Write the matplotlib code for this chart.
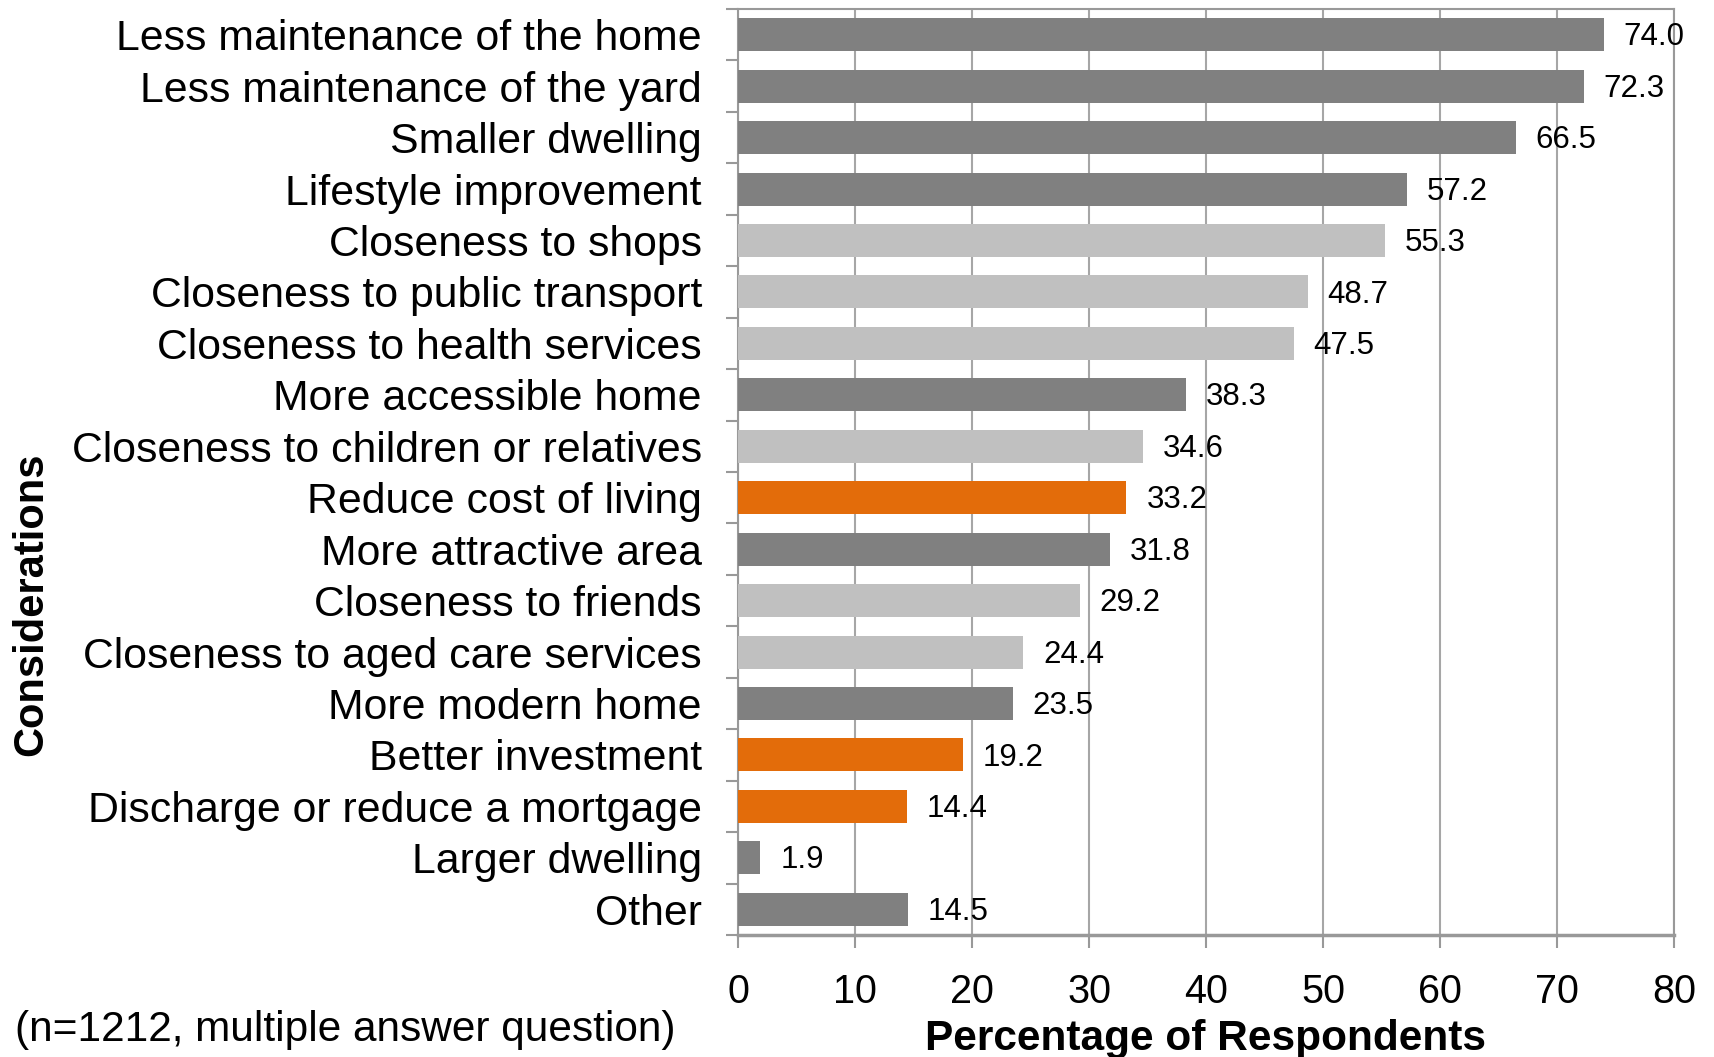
import matplotlib.pyplot as plt
import numpy as np

plt.rcParams['font.family'] = ['Liberation Sans', 'DejaVu Sans']

# survey data, top to bottom
labels = ['Less maintenance of the home', 'Less maintenance of the yard',
          'Smaller dwelling', 'Lifestyle improvement', 'Closeness to shops',
          'Closeness to public transport', 'Closeness to health services',
          'More accessible home', 'Closeness to children or relatives',
          'Reduce cost of living', 'More attractive area', 'Closeness to friends',
          'Closeness to aged care services', 'More modern home',
          'Better investment', 'Discharge or reduce a mortgage',
          'Larger dwelling', 'Other']
values = [74.0, 72.3, 66.5, 57.2, 55.3, 48.7, 47.5, 38.3, 34.6,
          33.2, 31.8, 29.2, 24.4, 23.5, 19.2, 14.4, 1.9, 14.5]
groups = ['d', 'd', 'd', 'd', 'l', 'l', 'l', 'd', 'l',
          'o', 'd', 'l', 'l', 'd', 'o', 'o', 'd', 'd']
xticks = [0, 10, 20, 30, 40, 50, 60, 70, 80]

palette = {'d': '#808080', 'l': '#c0c0c0', 'o': '#e36c0a'}
colors = [palette[g] for g in groups]

fig = plt.figure(figsize=(17.14, 10.57), dpi=100)
ax = fig.add_axes([0.4306, 0.1154, 0.5460, 0.8761])

y = np.arange(len(labels))
ax.barh(y, values, height=0.64, color=colors, zorder=3)

# value labels right of the bars
for yi, v in zip(y, values):
    ax.text(v + 1.7, yi + 0.05, '%.1f' % v, va='center', ha='left', fontsize=22.5, zorder=4)

ax.set_ylim(len(labels) - 0.5, -0.5)
ax.set_xlim(0, 80)

axcol = '#999999'
ax.set_xticks(xticks)
ax.set_xticklabels([str(t) for t in xticks], fontsize=28.5)
ax.set_yticks(y)
ax.set_yticklabels(labels, fontsize=30.8)
ax.set_yticks(np.arange(len(labels) + 1) - 0.5, minor=True)
ax.tick_params(axis='y', which='major', length=0, pad=26)
ax.tick_params(axis='y', which='minor', length=9, width=1.5, color=axcol, direction='out')
ax.tick_params(axis='x', length=9, width=1.5, color=axcol, direction='out', pad=18)

ax.grid(axis='x', color='#a6a6a6', linewidth=1.5, zorder=0)
for side in ['top', 'right', 'left']:
    ax.spines[side].set_color(axcol)
    ax.spines[side].set_linewidth(1.5)
ax.spines['bottom'].set_color(axcol)
ax.spines['bottom'].set_linewidth(2.5)

ax.set_xlabel('Percentage of Respondents', fontsize=30.5, fontweight='bold', labelpad=6)

fig.text(0.018, 0.428, 'Considerations', rotation=90, fontsize=30, fontweight='bold',
         ha='center', va='center')
fig.text(0.009, 0.026, '(n=1212, multiple answer question)', fontsize=30.5,
         ha='left', va='center')

plt.savefig('out.png', dpi=100)
